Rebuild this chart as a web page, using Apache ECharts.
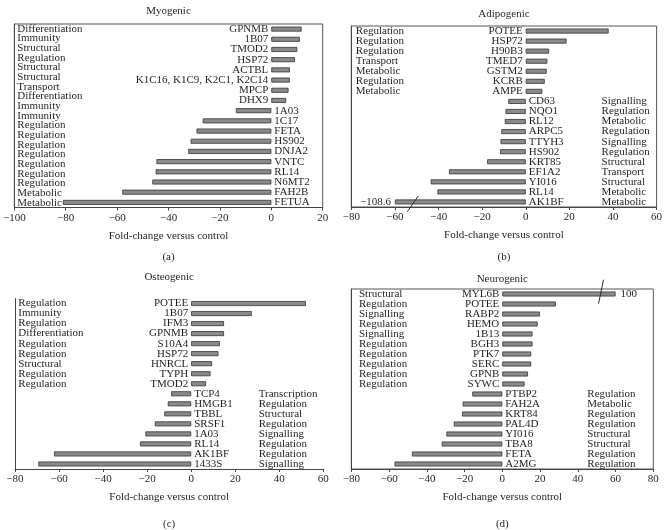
<!DOCTYPE html>
<html>
<head>
<meta charset="utf-8">
<script src="https://cdn.jsdelivr.net/npm/echarts@6/dist/echarts.min.js"></script>
<style>
  html, body { margin: 0; padding: 0; background: #fff; }
  #chart { width: 668px; height: 530px; }
</style>
</head>
<body>
<div id="chart"></div>
<script>
// (a) Myogenic
const myoGenes = ['GPNMB', '1B07', 'TMOD2', 'HSP72', 'ACTBL', 'K1C16, K1C9, K2C1, K2C14', 'MPCP', 'DHX9',
  '1A03', '1C17', 'FETA', 'HS902', 'DNJA2', 'VNTC', 'RL14', 'N6MT2', 'FAH2B', 'FETUA'];
const myoValues = [11.8, 11.1, 10.1, 9.2, 7.2, 7.2, 6.7, 5.8,
  -13.8, -26.7, -29.1, -31.4, -32.3, -44.7, -45, -46.3, -58, -81.1];
// the figure lists 19 functions next to 18 bars, so they get their own rows
const myoFuncs = ['Differentiation', 'Immunity', 'Structural', 'Regulation', 'Structural', 'Structural', 'Transport',
  'Differentiation', 'Immunity', 'Immunity', 'Regulation', 'Regulation', 'Regulation', 'Regulation', 'Regulation',
  'Regulation', 'Regulation', 'Metabolic', 'Metabolic'];
const myoRange = [-100, 20];

// (b) Adipogenic
const adipoGenes = ['POTEE', 'HSP72', 'H90B3', 'TMED7', 'GSTM2', 'KCRB', 'AMPE', 'CD63', 'NQO1', 'RL12',
  'ARPC5', 'TTYH3', 'HS902', 'KRT85', 'EF1A2', 'YI016', 'RL14', 'AK1BF'];
const adipoValues = [38, 18.7, 10.7, 9.9, 9.6, 8.7, 7.6, -8, -9.3, -9.6,
  -11.2, -11.6, -11.8, -17.7, -35.2, -43.6, -40.5, -108.6];
const adipoFuncs = ['Regulation', 'Regulation', 'Regulation', 'Transport', 'Metabolic', 'Regulation', 'Metabolic',
  'Signalling', 'Regulation', 'Metabolic', 'Regulation', 'Signalling', 'Regulation', 'Structural', 'Transport',
  'Structural', 'Metabolic', 'Metabolic'];
const adipoRange = [-80, 60];
const adipoClip = -60;

// (c) Osteogenic
const osteoGenes = ['POTEE', '1B07', 'IFM3', 'GPNMB', 'S10A4', 'HSP72', 'HNRCL', 'TYPH', 'TMOD2',
  'TCP4', 'HMGB1', 'TBBL', 'SRSF1', '1A03', 'RL14', 'AK1BF', '1433S'];
const osteoValues = [52.1, 27.5, 14.9, 14.9, 13, 12.4, 9.5, 8.8, 6.8,
  -9.1, -10.6, -12.2, -16.5, -20.8, -23.2, -62.3, -69.4];
const osteoFuncs = ['Regulation', 'Immunity', 'Regulation', 'Differentiation', 'Regulation', 'Regulation',
  'Structural', 'Regulation', 'Regulation', 'Transcription', 'Regulation', 'Structural', 'Regulation',
  'Signalling', 'Regulation', 'Regulation', 'Signalling'];
const osteoRange = [-80, 60];

// (d) Neurogenic
const neuroGenes = ['MYL6B', 'POTEE', 'RABP2', 'HEMO', '1B13', 'BGH3', 'PTK7', 'SERC', 'GPNB', 'SYWC',
  'PTBP2', 'FAH2A', 'KRT84', 'PAL4D', 'YI016', 'TBA8', 'FETA', 'A2MG'];
const neuroValues = [100, 28.4, 19.9, 18.7, 16, 16, 15.3, 15.3, 13.6, 11.8,
  -15.9, -21, -21.3, -25.7, -29.6, -32.1, -47.9, -57.1];
const neuroFuncs = ['Structural', 'Regulation', 'Signalling', 'Regulation', 'Signalling', 'Regulation',
  'Regulation', 'Regulation', 'Regulation', 'Regulation', 'Regulation', 'Metabolic', 'Regulation',
  'Regulation', 'Structural', 'Structural', 'Regulation', 'Regulation'];
const neuroRange = [-80, 80];
const neuroClip = 60;

const panels = [
  { title: 'Myogenic', tag: '(a)', genes: myoGenes, values: myoValues, funcs: myoFuncs, range: myoRange, clip: null, ownRows: true },
  { title: 'Adipogenic', tag: '(b)', genes: adipoGenes, values: adipoValues, funcs: adipoFuncs, range: adipoRange, clip: adipoClip },
  { title: 'Osteogenic', tag: '(c)', genes: osteoGenes, values: osteoValues, funcs: osteoFuncs, range: osteoRange, clip: null },
  { title: 'Neurogenic', tag: '(d)', genes: neuroGenes, values: neuroValues, funcs: neuroFuncs, range: neuroRange, clip: neuroClip }
];

// plot boxes [left, top, width, height] and label offsets
const layout = [
  { box: [14.3, 24, 308.4, 183.5], frame: true, leftPad: 3, rightPad: 0, titleY: 11, tagY: 257 },
  { box: [351.3, 26, 305.3, 181], frame: true, leftPad: 4.5, rightPad: 55, titleY: 14, tagY: 257 },
  { box: [15, 298.5, 308.3, 170.5], frame: false, leftPad: 3.3, rightPad: 64.6, titleY: 277, tagY: 524 },
  { box: [351.3, 289, 302, 180], frame: true, leftPad: 7.7, rightPad: 66, titleY: 279, tagY: 524 }
];

// break marks on the clipped bars: value where the slash sits, half width, reach above / below
const slashes = { 1: { at: -51.8, dx: 5.5, up: 6, down: 9.7 }, 3: { at: 52.3, dx: 2.5, up: 14.3, down: 9.7 } };

const font = "'Liberation Serif', 'DejaVu Serif', serif";
const ink = '#231f20';
const txt = { fontFamily: font, fontSize: 11, color: ink };
const fmt = v => String(v).replace('-', '\u2212');
const drawn = (v, clip) => (clip != null && Math.abs(v) > Math.abs(clip)) ? clip : v;

const grids = [], xAxes = [], yAxes = [], series = [];

panels.forEach((p, i) => {
  const L = layout[i];
  const [left, top, width, height] = L.box;
  grids.push({ left, top, width, height, show: L.frame, borderColor: '#555', borderWidth: 1 });

  xAxes.push({
    gridIndex: i, type: 'value', min: p.range[0], max: p.range[1], interval: 20,
    axisLine: { show: true, onZero: false, lineStyle: { color: '#444', width: 1 } },
    axisTick: { show: true, length: 3, lineStyle: { color: '#444' } },
    splitLine: { show: false },
    axisLabel: { ...txt, margin: 5, formatter: fmt },
    name: 'Fold-change versus control', nameLocation: 'middle', nameGap: 23,
    nameTextStyle: { ...txt }
  });

  const mainY = yAxes.length;
  yAxes.push({
    gridIndex: i, type: 'category', data: p.genes, inverse: true, position: 'left',
    axisLine: { show: true, onZero: false, lineStyle: { color: '#444', width: 1 } },
    axisTick: { show: false },
    axisLabel: p.ownRows ? { show: false } : {
      ...txt, inside: true, align: 'left', margin: L.leftPad, interval: 0,
      formatter: (v, idx) => p.values[idx] > 0 ? p.funcs[idx] : ''
    }
  });
  yAxes.push({
    gridIndex: i, type: 'category', data: p.ownRows ? p.funcs : p.genes, inverse: true, position: 'right',
    axisLine: { show: false }, axisTick: { show: false },
    axisLabel: p.ownRows
      ? { ...txt, inside: true, align: 'left', margin: width - L.leftPad, interval: 0 }
      : { ...txt, inside: true, align: 'left', margin: L.rightPad, interval: 0,
          formatter: (v, idx) => p.values[idx] < 0 ? p.funcs[idx] : '' }
  });

  series.push({
    type: 'bar', xAxisIndex: i, yAxisIndex: mainY, barWidth: 5, barGap: '-100%',
    itemStyle: { color: '#8a8a8a', borderColor: '#333', borderWidth: 0.8 },
    data: p.values.map((v, k) => ({
      value: drawn(v, p.clip),
      label: { show: true, position: v > 0 ? 'left' : 'right', distance: 3, ...txt, formatter: p.genes[k] }
    }))
  });

  // true value written beside a clipped bar
  if (p.clip != null) {
    series.push({
      type: 'bar', xAxisIndex: i, yAxisIndex: mainY, barWidth: 5, barGap: '-100%', silent: true,
      itemStyle: { color: 'rgba(0,0,0,0)', borderWidth: 0 },
      data: p.values.map(v => drawn(v, p.clip) !== v ? {
        value: drawn(v, p.clip),
        label: { show: true, position: v > 0 ? 'right' : 'left', distance: v > 0 ? 5 : 4, ...txt, formatter: fmt(v) }
      } : '-')
    });
  }
});

const chart = echarts.init(document.getElementById('chart'), null, { renderer: 'canvas' });
chart.setOption({
  animation: false,
  backgroundColor: '#fff',
  grid: grids, xAxis: xAxes, yAxis: yAxes, series
});

const graphics = [];
panels.forEach((p, i) => {
  const L = layout[i];
  const cx = L.box[0] + L.box[2] / 2;
  graphics.push({ type: 'text', x: cx, y: L.titleY, style: { text: p.title, align: 'center', verticalAlign: 'middle', font: '11px ' + font, fill: ink } });
  graphics.push({ type: 'text', x: cx, y: L.tagY, style: { text: p.tag, align: 'center', verticalAlign: 'middle', font: '11px ' + font, fill: ink } });
  const s = slashes[i];
  if (s) {
    const row = p.values.findIndex(v => drawn(v, p.clip) !== v);
    const pt = chart.convertToPixel({ xAxisIndex: i, yAxisIndex: i * 2 }, [s.at, row]);
    graphics.push({
      type: 'line', z: 10,
      shape: { x1: pt[0] + s.dx, y1: pt[1] - s.up, x2: pt[0] - s.dx, y2: pt[1] + s.down },
      style: { stroke: '#2b2b2b', lineWidth: 1 }
    });
  }
});
chart.setOption({ graphic: graphics });
</script>
</body>
</html>
